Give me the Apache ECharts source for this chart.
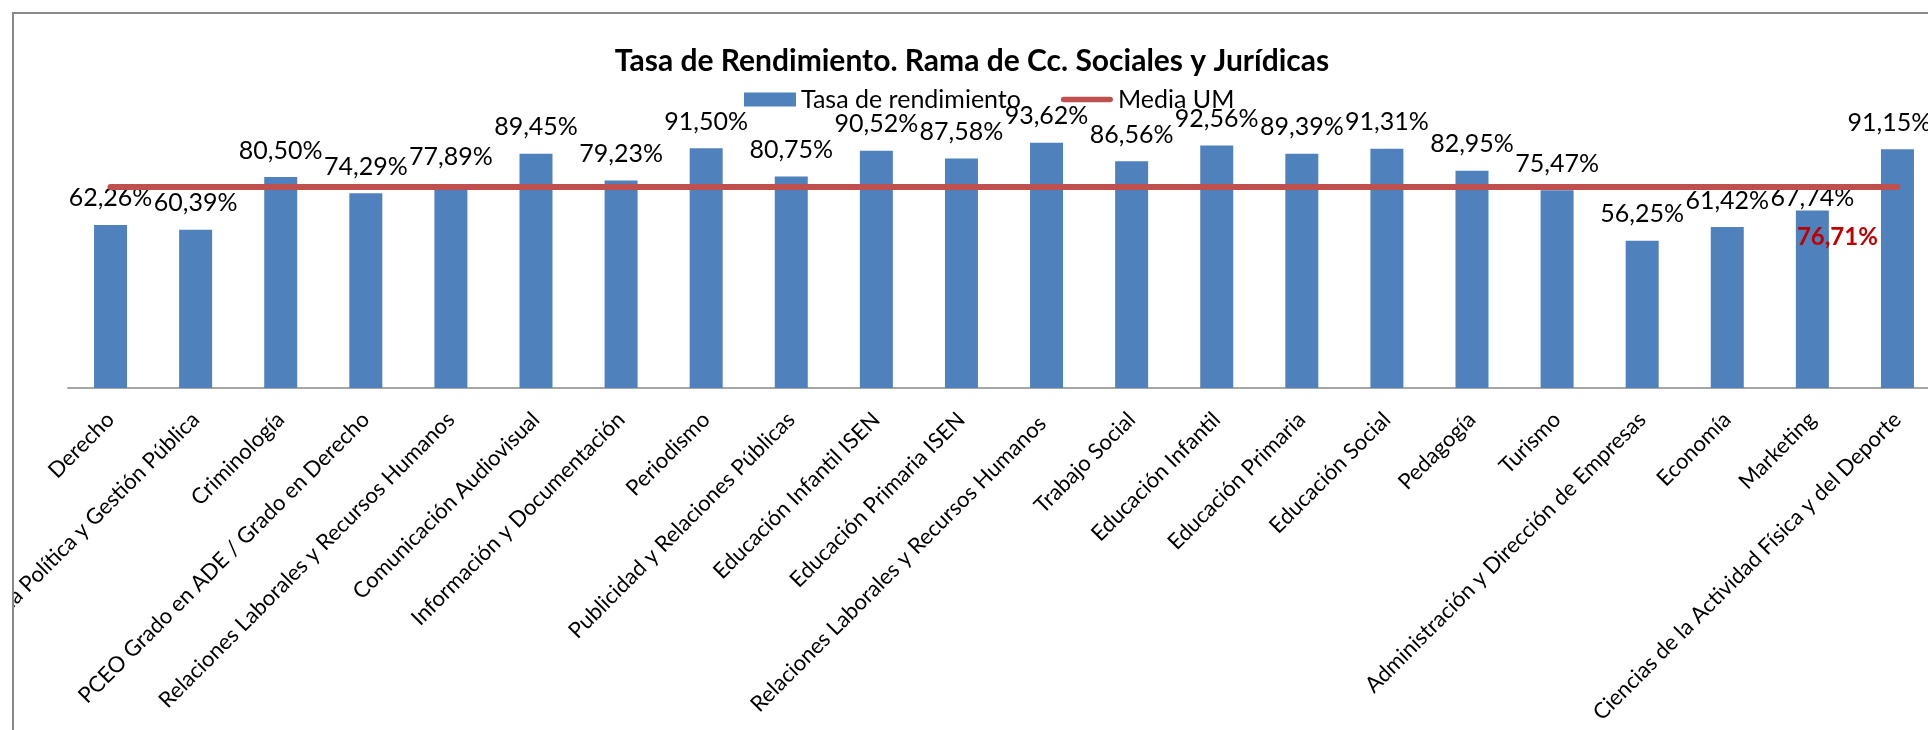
<!DOCTYPE html>
<html>
<head>
<meta charset="utf-8">
<script src="https://cdn.jsdelivr.net/npm/echarts@6/dist/echarts.min.js"></script>
<style>
  body { margin: 0; background: #fff; }
  #wrap {
    position: absolute; left: 12px; top: 12px;
    width: 1916px; height: 718px;
    border-left: 2px solid #898989; border-top: 2px solid #898989;
    overflow: hidden;
  }
  #chart { width: 1916px; height: 718px; }
</style>
</head>
<body>
<div id="wrap"><div id="chart"></div></div>
<script>
// Grados de la rama de Cc. Sociales y Jurídicas
var grados = [
    'Derecho',
    'Ciencia Política y Gestión Pública',
    'Criminología',
    'PCEO Grado en ADE / Grado en Derecho',
    'Relaciones Laborales y Recursos Humanos',
    'Comunicación Audiovisual',
    'Información y Documentación',
    'Periodismo',
    'Publicidad y Relaciones Públicas',
    'Educación Infantil ISEN',
    'Educación Primaria ISEN',
    'Relaciones Laborales y Recursos Humanos ',
    'Trabajo Social',
    'Educación Infantil',
    'Educación Primaria',
    'Educación Social',
    'Pedagogía',
    'Turismo',
    'Administración y Dirección de Empresas',
    'Economía',
    'Marketing',
    'Ciencias de la Actividad Física y del Deporte'
];

var tasaRendimiento = [62.26, 60.39, 80.50, 74.29, 77.89, 89.45, 79.23, 91.50, 80.75, 90.52, 87.58,
                       93.62, 86.56, 92.56, 89.39, 91.31, 82.95, 75.47, 56.25, 61.42, 67.74, 91.15];

var mediaUM = [76.71, 76.71, 76.71, 76.71, 76.71, 76.71, 76.71, 76.71, 76.71, 76.71, 76.71,
               76.71, 76.71, 76.71, 76.71, 76.71, 76.71, 76.71, 76.71, 76.71, 76.71, 76.71];

var FONT = 'Lato, "Open Sans", sans-serif';

function pct(v) {
    return v.toFixed(2).replace('.', ',') + '%';
}

var myChart = echarts.init(document.getElementById('chart'));

var barData = tasaRendimiento.map(function (v, i) {
    if (i === 20) {
        // Marketing: etiqueta pegada a la barra, bajo la línea de la media
        return {value: v, label: {distance: 0}};
    }
    if (i === 21) {
        // última etiqueta algo desplazada para que quepa
        return {value: v, label: {offset: [-8, 0]}};
    }
    return v;
});

var mediaData = mediaUM.map(function (v, i) {
    if (i === 20) {
        // etiqueta roja con la media, bajo la línea
        return {
            value: v,
            label: {
                show: true,
                position: 'bottom',
                distance: 38,
                offset: [25, 0],
                formatter: function (p) { return pct(p.value); },
                color: '#C00000',
                fontWeight: 'bold',
                fontSize: 24,
                fontFamily: FONT
            }
        };
    }
    return v;
});

myChart.setOption({
    animation: false,
    title: {
        text: 'Tasa de Rendimiento. Rama de Cc. Sociales y Jurídicas',
        left: 'center',
        top: 27,
        textStyle: {fontFamily: FONT, fontSize: 30, fontWeight: 'bold', color: '#000'}
    },
    legend: {
        left: 725,
        top: 68,
        itemWidth: 52,
        itemHeight: 14,
        itemGap: 40,
        textStyle: {fontFamily: FONT, fontSize: 25, color: '#000'},
        data: [
            {name: 'Tasa de rendimiento', icon: 'rect'},
            {name: 'Media UM', icon: 'path://M3,0H53A3,3,0,0,1,53,6H3A3,3,0,0,1,3,0Z'}
        ]
    },
    grid: {
        left: 54,
        top: 112,
        width: 1872,
        height: 262,
        outerBoundsMode: 'none'
    },
    xAxis: {
        type: 'category',
        data: grados,
        axisLine: {lineStyle: {color: '#A6A6A6', width: 2}},
        axisTick: {show: false},
        axisLabel: {
            interval: 0,
            rotate: 45,
            margin: 28,
            color: '#000',
            fontFamily: FONT,
            fontSize: 22
        }
    },
    yAxis: {
        type: 'value',
        min: 0,
        max: 100,
        show: false
    },
    series: [
        {
            name: 'Tasa de rendimiento',
            type: 'bar',
            barWidth: 33,
            itemStyle: {color: '#4F81BD'},
            label: {
                show: true,
                position: 'top',
                distance: 14,
                color: '#000',
                fontFamily: FONT,
                fontSize: 25,
                formatter: function (p) { return pct(p.value); }
            },
            data: barData
        },
        {
            name: 'Media UM',
            type: 'line',
            symbol: 'circle',
            symbolSize: 1,
            z: 3,
            lineStyle: {color: '#C0504D', width: 6, cap: 'round'},
            itemStyle: {color: '#C0504D'},
            data: mediaData
        }
    ]
});
</script>
</body>
</html>
